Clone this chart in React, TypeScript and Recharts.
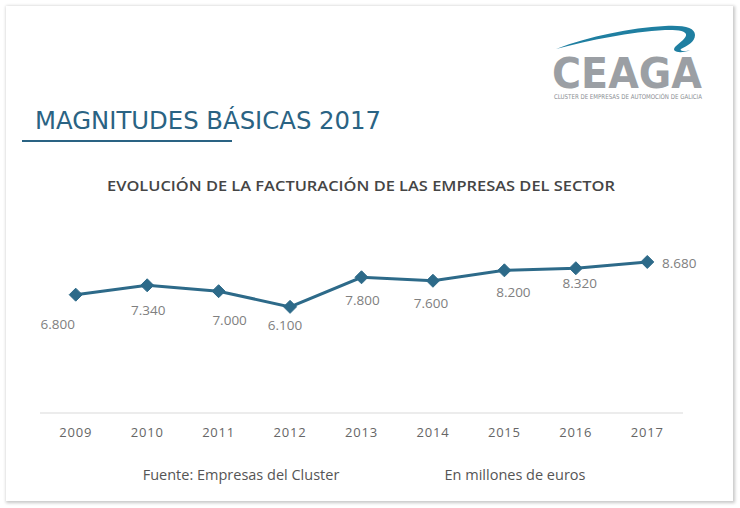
import React from 'react';
import { LineChart, Line, XAxis, YAxis, LabelList } from 'recharts';

const years = ['2009', '2010', '2011', '2012', '2013', '2014', '2015', '2016', '2017'];
const facturacion = [6800, 7340, 7000, 6100, 7800, 7600, 8200, 8320, 8680];
const yDomain = [0, 10000];

const data = years.map((y, i) => ({ year: y, value: facturacion[i] }));

// label placement offsets (style only), relative to each point
const labelOffsets: [number, number][] = [
  [-18, 29], [1, 25], [11, 29], [-5, 18], [1, 23], [-2, 22], [9, 22], [4, 15], [32, 1],
];

const LINE_COLOR = '#2d6a89';

const fmt = (v: number) => {
  const s = String(Math.round(v));
  return s.replace(/\B(?=(\d{3})+(?!\d))/g, '.');
};

const Diamond = (props: any) => {
  const { cx, cy } = props;
  if (cx == null || cy == null) return null;
  const r = 6.5;
  return (
    <polygon
      points={`${cx},${cy - r} ${cx + r},${cy} ${cx},${cy + r} ${cx - r},${cy}`}
      fill={LINE_COLOR}
      stroke={LINE_COLOR}
      strokeWidth={1}
      strokeLinejoin="round"
    />
  );
};

const ValueLabel = (props: any) => {
  const { x, y, value, index } = props;
  const [dx, dy] = labelOffsets[index] || [0, 20];
  return (
    <text
      x={x + dx}
      y={y + dy}
      textAnchor="middle"
      dominantBaseline="central"
      fontFamily="'Open Sans', sans-serif"
      fontSize={13.5}
      fill="#808080"
    >
      {fmt(value)}
    </text>
  );
};

export default function App() {
  return (
    <div style={{ position: 'fixed', left: 0, top: 0, width: 740, height: 508, background: '#fff' }}>
      <div
        style={{
          position: 'absolute',
          left: 6,
          top: 6,
          width: 727,
          height: 495,
          background: '#fff',
          boxShadow: '1px 1px 3px 1px rgba(0,0,0,0.22)',
        }}
      />
      <svg width={740} height={508} style={{ position: 'absolute', left: 0, top: 0 }}>
        {/* logo swoosh */}
        <path
          d="M556,49 C590,36 630,28 665,26 C685,25 695,28 695,35 C695,42 687,46 681,49 C679,51 685,52 691,50 C680,54 671,52 675,47 C680,42 687,38 686,34 C684,30 676,30 665,30 C630,32 590,40 556,49 Z"
          fill="#1f7fa1"
        />
        <text
          x={552}
          y={88}
          fontFamily="'DejaVu Sans', sans-serif"
          fontWeight="bold"
          fontSize={42}
          fill="#9b9fa4"
          textLength={150}
          lengthAdjust="spacingAndGlyphs"
        >
          CEAGA
        </text>
        <text
          x={554}
          y={99}
          fontFamily="'DejaVu Sans Condensed', 'DejaVu Sans', sans-serif"
          fontSize={6.5}
          fill="#8a8e93"
          textLength={148}
          lengthAdjust="spacingAndGlyphs"
        >
          CLUSTER DE EMPRESAS DE AUTOMOCIÓN DE GALICIA
        </text>
        {/* title */}
        <text
          x={35}
          y={129}
          fontFamily="'DejaVu Sans', sans-serif"
          fontSize={24}
          fill="#2a6383"
          textLength={346}
          lengthAdjust="spacingAndGlyphs"
        >
          MAGNITUDES BÁSICAS 2017
        </text>
        <rect x={22} y={140} width={210} height={2} fill="#2a6383" />
        <text
          x={107}
          y={191}
          fontFamily="'Open Sans', sans-serif"
          fontWeight={600}
          fontSize={14.5}
          fill="#454545"
          textLength={508}
          lengthAdjust="spacingAndGlyphs"
        >
          EVOLUCIÓN DE LA FACTURACIÓN DE LAS EMPRESAS DEL SECTOR
        </text>
        <text
          x={241}
          y={480}
          textAnchor="middle"
          fontFamily="'Open Sans', sans-serif"
          fontSize={14.5}
          fill="#555"
        >
          Fuente: Empresas del Cluster
        </text>
        <text
          x={515}
          y={480}
          textAnchor="middle"
          fontFamily="'Open Sans', sans-serif"
          fontSize={14.5}
          fill="#555"
        >
          En millones de euros
        </text>
      </svg>
      <div style={{ position: 'absolute', left: 0, top: 0 }}>
        <LineChart
          width={740}
          height={508}
          data={data}
          margin={{ top: 239, right: 57, bottom: 65, left: 40 }}
        >
          <XAxis
            dataKey="year"
            scale="band"
            height={30}
            axisLine={{ stroke: '#d9d9d9', strokeWidth: 1 }}
            tickLine={false}
            tickSize={0}
            tickMargin={15}
            tick={{ fill: '#666', fontSize: 13, fontFamily: "'Open Sans', sans-serif", letterSpacing: 0.8 }}
            interval={0}
          />
          <YAxis hide domain={yDomain} width={0} />
          <Line
            type="linear"
            dataKey="value"
            stroke={LINE_COLOR}
            strokeWidth={3}
            dot={<Diamond />}
            activeDot={false}
            isAnimationActive={false}
          >
            <LabelList dataKey="value" content={<ValueLabel />} />
          </Line>
        </LineChart>
      </div>
    </div>
  );
}
